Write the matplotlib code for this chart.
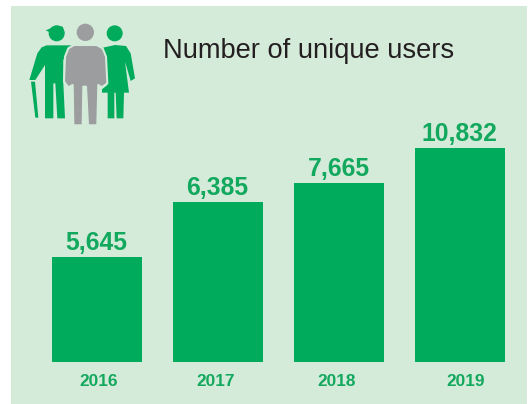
import matplotlib
matplotlib.use('Agg')
import matplotlib.pyplot as plt
from matplotlib.patches import Polygon, Circle, Rectangle

plt.rcParams['font.family'] = ['Liberation Sans', 'DejaVu Sans']

years = ['2016', '2017', '2018', '2019']
users = [5645, 6385, 7665, 10832]
# the bars in the original are not to scale with the printed numbers,
# so these are the drawn heights
drawn_heights = [105, 160, 179, 214]

W, H = 531, 404
GREEN = '#00AB5B'
TEXT_GREEN = '#12A85E'
PANEL = '#D5EBDA'
GREY = '#9B9D9F'

fig = plt.figure(figsize=(W / 100, H / 100), dpi=100, facecolor='white')

# background layer in pixel coordinates
bg = fig.add_axes([0, 0, 1, 1])
bg.set_xlim(0, W)
bg.set_ylim(H, 0)
bg.axis('off')
bg.add_patch(Rectangle((11, 6), 516, 398, color=PANEL, lw=0))


# icon outlines were measured on a 3x crop
def shape(points, color, edge=None):
    pts = [(x / 3, y / 3) for x, y in points]
    bg.add_patch(Polygon(pts, closed=True, facecolor=color, joinstyle='round',
                         edgecolor=edge if edge else 'none', lw=1.5 if edge else 0))


def head(x, y, r, color):
    bg.add_patch(Circle((x / 3, y / 3), r / 3, color=color, lw=0))


# man with cane
head(170, 100, 24, GREEN)
shape([(137, 91), (172, 77), (188, 80), (194, 98), (155, 100)], GREEN)
shape([(125, 142), (140, 136), (215, 136), (190, 180), (190, 250), (195, 355), (172, 355), (166, 250),
       (160, 250), (160, 355), (135, 355), (135, 195), (106, 240), (88, 240), (112, 160)], GREEN)
shape([(93, 245), (105, 245), (115, 353), (106, 353)], GREEN)

# woman
head(344, 100, 24, GREEN)
shape([(300, 145), (345, 135), (378, 138), (392, 160), (405, 235), (392, 243), (375, 185),
       (387, 278), (372, 278), (370, 355), (350, 355), (347, 278), (343, 278), (343, 355),
       (323, 355), (323, 278), (306, 278), (306, 268), (322, 255)], GREEN)

# man in front
head(256, 97, 26, GREY)
shape([(222, 135), (290, 135), (308, 145), (318, 170), (322, 250), (305, 262), (295, 255), (292, 376),
       (264, 376), (258, 260), (250, 260), (248, 376), (220, 376), (218, 255), (205, 262),
       (192, 245), (195, 170), (205, 145)], GREY, edge=PANEL)

bg.text(163, 51, 'Number of unique users', fontsize=19.6, color='#231F20', va='center', ha='left')

# bars
ax = fig.add_axes([36 / W, 1 - 362 / H, 484 / W, 214 / H])
ax.patch.set_alpha(0)
positions = list(range(len(years)))
ax.bar(positions, drawn_heights, width=90 / 121, color=GREEN)
ax.set_xlim(-0.5, 3.5)
ax.set_ylim(0, 214)
for s in ax.spines.values():
    s.set_visible(False)
ax.set_yticks([])
ax.set_xticks([])

for p, h, u in zip(positions, drawn_heights, users):
    ax.annotate(f'{u:,}', (p, h), xytext=(0, 1.5), textcoords='offset points',
                ha='center', va='bottom', fontsize=17.8, fontweight='bold', color=TEXT_GREEN)

# year labels sit a little off the bar centres in the original
label_shift = [2.5, -1.5, -1.5, 6.5]
for p, y, dx in zip(positions, years, label_shift):
    ax.annotate(y, (p, 0), xytext=(dx * 0.72, -14.2), textcoords='offset points',
                ha='center', va='center', fontsize=12.4, fontweight='bold', color=TEXT_GREEN)

fig.savefig('out.png', dpi=100, facecolor='white')
